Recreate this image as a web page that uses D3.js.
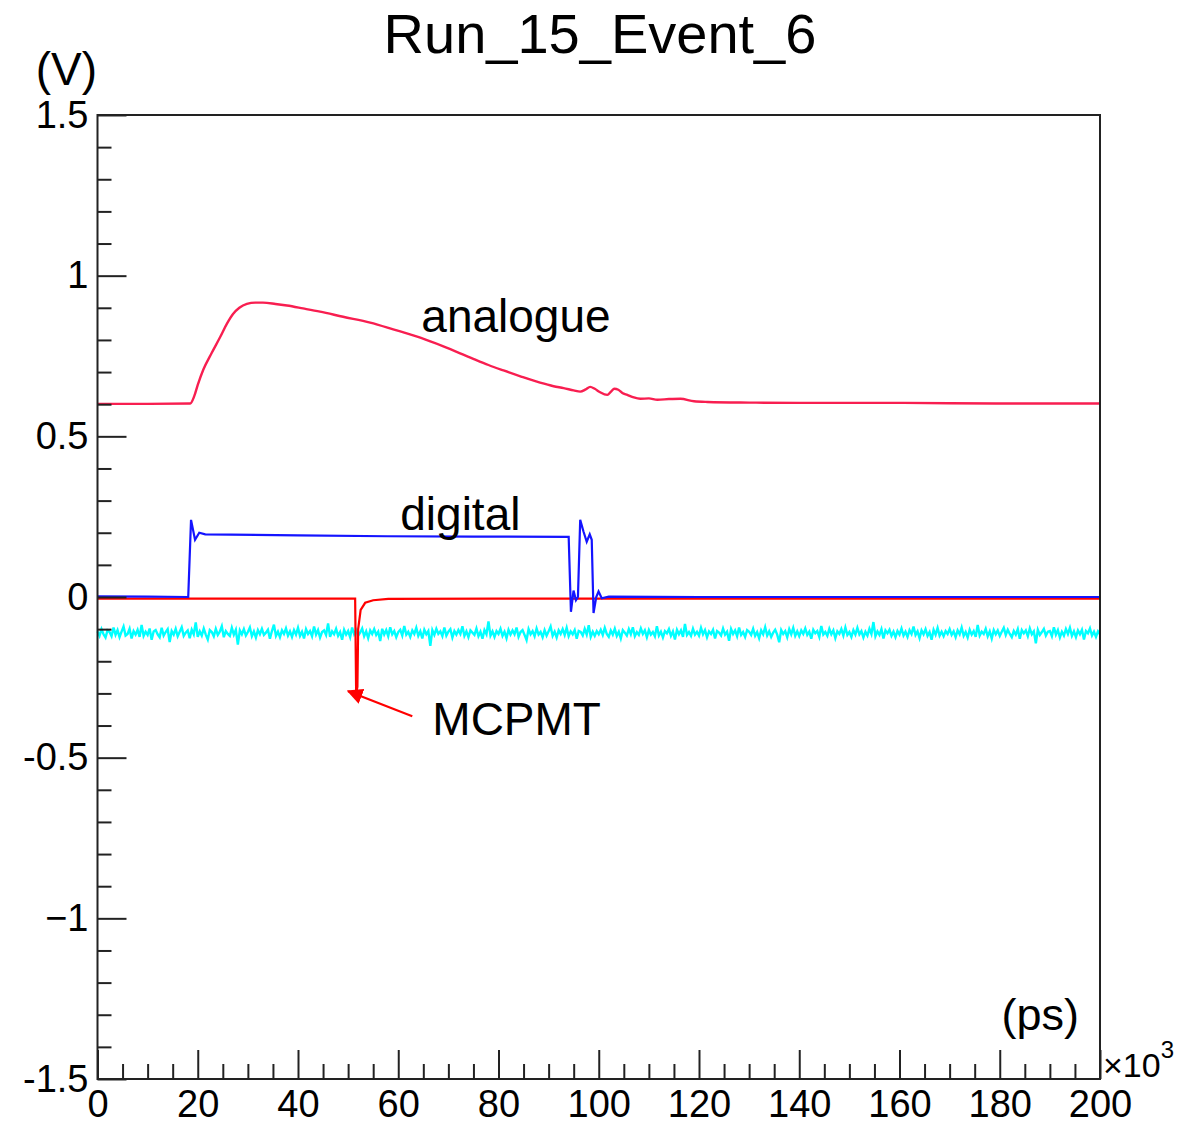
<!DOCTYPE html>
<html>
<head>
<meta charset="utf-8">
<script src="https://cdn.jsdelivr.net/npm/d3@7"></script>
<style>
  html, body { margin: 0; padding: 0; background: #fff; }
  svg { display: block; font-family: "Liberation Sans", Arial, Helvetica, sans-serif; }
</style>
</head>
<body>
<svg id="chart" width="1194" height="1124"></svg>
<script>
// ---------------- data ----------------
const title = "Run_15_Event_6";
const xMajorTicks = [0, 20, 40, 60, 80, 100, 120, 140, 160, 180, 200];
const yMajorTicks = [-1.5, -1, -0.5, 0, 0.5, 1, 1.5];
const yTickLabels = ["-1.5", "\u22121", "-0.5", "0", "0.5", "1", "1.5"];

// analogue trace: time (x10^3 ps) and volts
const analogueT = [0, 10, 18.5, 19.3, 20.0, 21.1, 22.8, 24.5, 25.8, 27.0, 28.3, 29.8, 31.5, 33.0, 35.5, 37.8, 41, 44.4, 49, 54.4, 59, 64.4, 69, 74.4, 78, 81, 84.5, 88.3, 91, 93, 95, 96.3, 97.4, 98.3, 99.2, 100.2, 101.7, 102.5, 103.1, 103.9, 104.7, 105.7, 107, 108.3, 110, 111.7, 114, 116.3, 119, 121.7, 130, 140, 160, 180, 200];
const analogueV = [0.601, 0.601, 0.602, 0.625, 0.660, 0.707, 0.760, 0.810, 0.850, 0.880, 0.900, 0.912, 0.916, 0.916, 0.912, 0.907, 0.898, 0.888, 0.872, 0.854, 0.833, 0.807, 0.780, 0.745, 0.722, 0.705, 0.686, 0.667, 0.656, 0.650, 0.643, 0.639, 0.646, 0.654, 0.648, 0.638, 0.629, 0.640, 0.648, 0.645, 0.635, 0.629, 0.621, 0.617, 0.618, 0.614, 0.616, 0.617, 0.609, 0.607, 0.605, 0.604, 0.604, 0.602, 0.602];

// digital trace
const digitalT = [0, 10, 18.1, 18.66, 19.46, 20.3, 21.5, 40, 57.8, 75, 94.0, 94.45, 94.97, 95.45, 95.85, 96.3, 96.97, 97.6, 98.2, 98.6, 98.96, 99.5, 99.96, 100.6, 102, 120, 150, 200];
const digitalV = [0.002, 0.001, 0.0, 0.24, 0.178, 0.200, 0.195, 0.192, 0.189, 0.188, 0.187, -0.046, 0.020, -0.010, 0.0, 0.240, 0.203, 0.172, 0.195, 0.178, -0.050, 0.0, 0.017, -0.004, 0.001, 0.0, 0.0, 0.0];

// MCPMT trace
const mcpmtT = [0, 20, 40, 51.4, 51.6, 51.85, 52.0, 52.5, 53.4, 55, 58, 80, 120, 160, 200];
const mcpmtV = [-0.005, -0.005, -0.005, -0.005, -0.300, -0.280, -0.100, -0.040, -0.018, -0.010, -0.006, -0.005, -0.005, -0.005, -0.005];

// baseline noise trace (cyan): offsets in mV around the mean level, one sample per 0.4 x10^3 ps
const noiseLevel = -0.112;
const noiseStep = 0.4;
const noiseMilliVolts = [
  5,-9,12,-4,-14,8,3,-10,17,-6,9,-13,4,20,-8,-3,13,-17,6,-5,10,-12,25,-9,4,
  -6,14,-21,5,9,-4,-13,16,-8,3,12,-28,6,-5,13,-10,4,18,-9,1,8,-16,10,-4,33,
  -12,5,-8,14,-5,-20,9,3,-10,13,-6,4,21,-13,6,-3,-9,16,-5,10,-36,8,-4,12,-8,
  3,17,-10,5,-14,9,-4,13,-6,1,10,-18,6,26,-9,4,-13,8,-3,14,-8,5,-12,9,-5,
  16,-9,4,-17,12,-3,6,-10,20,-5,9,-14,3,8,-6,30,-12,5,-4,13,-9,3,-21,10,-5,
  6,-13,17,-4,9,-8,1,14,-10,5,-16,8,-3,12,-6,4,-25,13,-5,9,-10,18,-4,6,-13,
  3,10,-8,22,-5,4,-12,8,-3,16,-9,5,-17,10,-4,6,-40,9,-6,13,-3,5,-10,17,-8,
  4,12,-14,6,-5,9,-3,21,-9,5,-13,8,1,-6,14,-10,4,-18,9,-4,36,-8,5,-12,6,
  -3,13,-9,4,-16,10,-5,8,-4,17,-12,3,9,-6,-22,12,-4,6,-10,14,-5,3,-13,9,-8,
  5,20,-9,4,-14,8,-3,12,-6,16,-10,5,-4,9,-18,6,3,-8,13,-5,24,-12,4,-9,6,
  -4,10,-6,16,-3,-12,8,-5,13,-9,4,-17,9,1,-8,12,-4,18,-10,3,-6,14,-3,8,-13,
  9,-5,3,-10,21,-8,4,-14,6,-1,12,-9,5,-20,10,-4,8,-12,28,-6,3,-9,13,-5,4,
  -8,16,-4,9,-13,5,-3,10,-17,6,1,-8,14,-5,4,-24,12,-3,8,-10,17,-6,3,-12,9,
  4,-6,13,-9,3,-16,8,-4,18,-8,5,-12,1,10,-5,-29,9,-3,6,-13,12,-4,16,-9,5,
  -10,8,-3,14,-6,4,-18,10,-1,6,-12,22,-5,3,-9,13,-4,8,-16,5,-3,12,-8,17,-6,
  3,-12,9,-5,16,-4,6,-14,4,-8,13,-3,34,-10,5,-6,12,-17,8,-1,10,-9,4,-13,6,
  -5,14,-8,4,-12,9,-3,20,-6,5,-16,8,-4,12,-9,3,-21,10,-5,16,-8,4,-10,6,-3,
  12,-6,5,-13,8,-4,17,-9,3,-14,10,-5,6,-12,25,-8,4,-3,13,-10,5,-17,9,-4,8,
  -9,4,16,-6,10,-3,-13,6,-5,12,-18,9,-1,8,-10,14,-4,5,-32,10,-6,3,13,-8,4,
  6,-10,18,-5,9,-14,4,-8,12,-3,16,-9,5,-13,8,-4,10,-20,6,-1,14,-8,4,-12,5,
  -4
];

// annotations (data coordinates)
const labels = [
  { text: "analogue", t: 64.6, v: 0.826 },
  { text: "digital",  t: 60.4, v: 0.209 },
  { text: "MCPMT",    t: 66.8, v: -0.430 }
];
const arrowFrom = { t: 62.8, v: -0.371 };
const arrowTo   = { t: 50.0, v: -0.293 };

// ---------------- drawing ----------------
const svg = d3.select("#chart");
const plot = { left: 97.5, right: 1100, top: 115, bottom: 1079 };

const x = d3.scaleLinear().domain([0, 200]).range([plot.left, plot.right]);
const y = d3.scaleLinear().domain([-1.5, 1.5]).range([plot.bottom, plot.top]);

const zip = (ts, vs) => ts.map((t, i) => [t, vs[i]]);
const analogue = zip(analogueT, analogueV);
const digital = zip(digitalT, digitalV);
const mcpmt = zip(mcpmtT, mcpmtV);
const noise = noiseMilliVolts.map((m, i) => [i * noiseStep, noiseLevel + m / 1000]);

const line = d3.line().x(d => x(d[0])).y(d => y(d[1]));
const smooth = d3.line().x(d => x(d[0])).y(d => y(d[1])).curve(d3.curveMonotoneX);

// title
svg.append("text")
  .attr("x", 600).attr("y", 53)
  .attr("text-anchor", "middle")
  .attr("font-size", 56)
  .attr("fill", "#000")
  .text(title);

// traces
const g = svg.append("g");
g.append("path").datum(noise).attr("d", line)
  .attr("fill", "none").attr("stroke", "#00ffff").attr("stroke-width", 2.4);
g.append("path").datum(analogue).attr("d", smooth)
  .attr("fill", "none").attr("stroke", "#f81e50").attr("stroke-width", 2.4);
g.append("path").datum(mcpmt).attr("d", line)
  .attr("fill", "none").attr("stroke", "#ff0000").attr("stroke-width", 2.2);
g.append("path").datum(digital).attr("d", line)
  .attr("fill", "none").attr("stroke", "#1414ff").attr("stroke-width", 2.2);

// axes
const axisColor = "#222";
const xMinor = d3.range(0, 201, 5).filter(v => v % 20 !== 0);
const yMinor = d3.range(-15, 16, 1).map(v => v / 10).filter(v => Math.abs((v * 10) % 5) > 1e-9);

const xAxisMajor = d3.axisBottom(x).tickValues(xMajorTicks).tickSizeInner(-29).tickSizeOuter(0).tickPadding(11)
  .tickFormat(d3.format("d"));
const xAxisMinor = d3.axisBottom(x).tickValues(xMinor).tickSizeInner(-15).tickSizeOuter(0).tickFormat("");
const yAxisMajor = d3.axisLeft(y).tickValues(yMajorTicks).tickSizeInner(-29).tickSizeOuter(0).tickPadding(9)
  .tickFormat(d => yTickLabels[yMajorTicks.indexOf(d)]);
const yAxisMinor = d3.axisLeft(y).tickValues(yMinor).tickSizeInner(-14).tickSizeOuter(0).tickFormat("");

function styleAxis(sel) {
  sel.select(".domain").remove();
  sel.selectAll("line").attr("stroke", axisColor).attr("stroke-width", 2);
  sel.selectAll("text").attr("font-size", 38).attr("fill", "#000")
    .attr("font-family", "'Liberation Sans', Arial, Helvetica, sans-serif");
}

svg.append("g").attr("transform", `translate(0,${plot.bottom})`).call(xAxisMinor).call(styleAxis);
svg.append("g").attr("transform", `translate(0,${plot.bottom})`).call(xAxisMajor).call(styleAxis);
svg.append("g").attr("transform", `translate(${plot.left},0)`).call(yAxisMinor).call(styleAxis);
svg.append("g").attr("transform", `translate(${plot.left},0)`).call(yAxisMajor).call(styleAxis);

// frame
svg.append("rect")
  .attr("x", plot.left).attr("y", plot.top)
  .attr("width", plot.right - plot.left).attr("height", plot.bottom - plot.top)
  .attr("fill", "none").attr("stroke", axisColor).attr("stroke-width", 2);

// axis titles
svg.append("text").attr("x", 97).attr("y", 85).attr("text-anchor", "end")
  .attr("font-size", 46).attr("fill", "#000").text("(V)");
svg.append("text").attr("x", 1079).attr("y", 1030).attr("text-anchor", "end")
  .attr("font-size", 45).attr("fill", "#000").text("(ps)");
const mult = svg.append("text").attr("x", 1103).attr("y", 1077).attr("font-size", 34).attr("fill", "#000");
mult.append("tspan").text("\u00d710");
mult.append("tspan").attr("font-size", 24).attr("dy", -19).text("3");

// annotations
svg.selectAll("text.ann").data(labels).enter().append("text")
  .attr("class", "ann")
  .attr("x", d => x(d.t)).attr("y", d => y(d.v))
  .attr("font-size", 46).attr("fill", "#000")
  .text(d => d.text);

// arrow
const defs = svg.append("defs");
defs.append("marker")
  .attr("id", "arrowhead")
  .attr("viewBox", "0 0 10 10")
  .attr("refX", 9).attr("refY", 5)
  .attr("markerWidth", 16).attr("markerHeight", 16)
  .attr("markerUnits", "userSpaceOnUse")
  .attr("orient", "auto")
  .append("path").attr("d", "M0,0 L10,5 L0,10 Z").attr("fill", "#ff0000");

svg.append("line")
  .attr("x1", x(arrowFrom.t)).attr("y1", y(arrowFrom.v))
  .attr("x2", x(arrowTo.t)).attr("y2", y(arrowTo.v))
  .attr("stroke", "#ff0000").attr("stroke-width", 2.2)
  .attr("marker-end", "url(#arrowhead)");
</script>
</body>
</html>
